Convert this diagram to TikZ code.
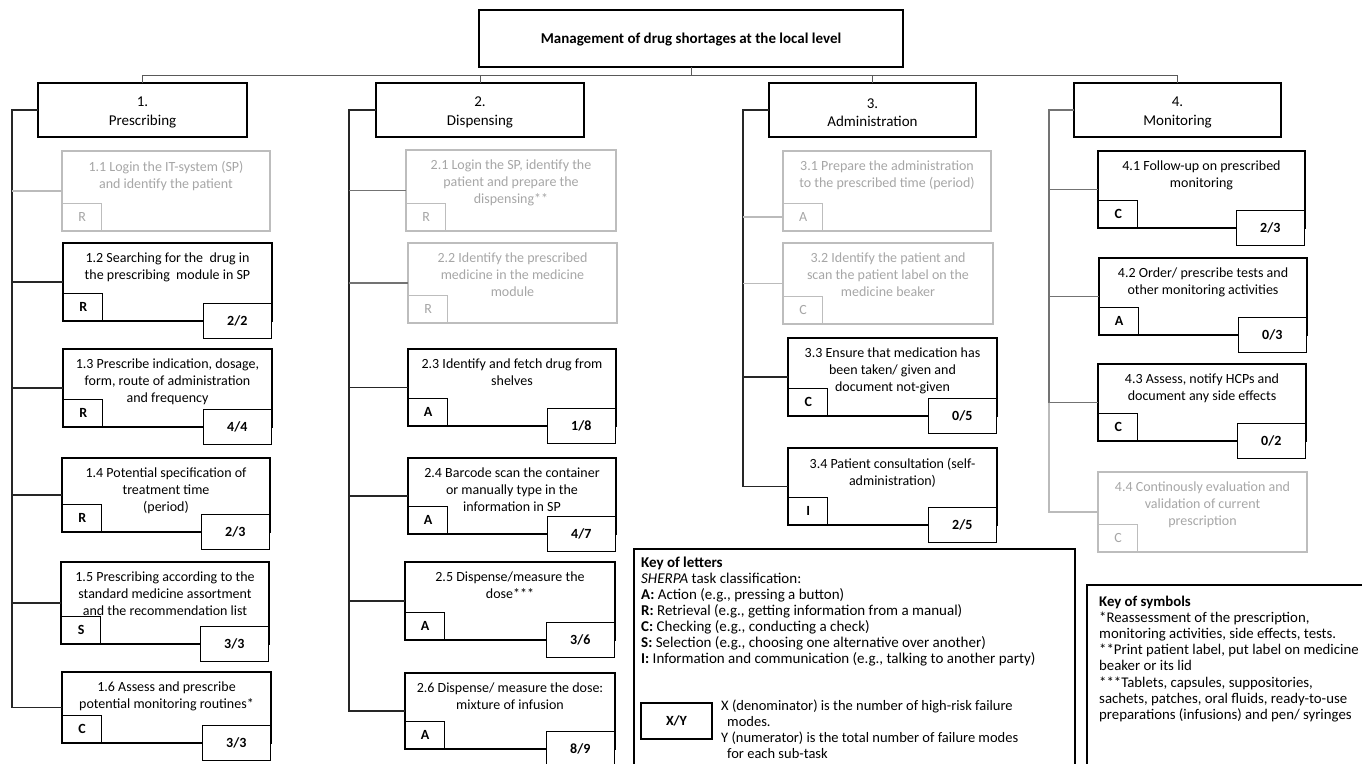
\documentclass[tikz,border=0pt]{standalone}
\usepackage{fontspec}
\setmainfont{Carlito}
\usetikzlibrary{calc}

\definecolor{boxgray}{HTML}{BDBDBD}
\definecolor{txtgray}{HTML}{A6A6A6}
\definecolor{linkgray}{HTML}{BBBBBB}

\tikzset{
  titlebox/.style={draw, line width=1.8pt, inner sep=0pt, outer sep=0pt,
    font=\fontsize{15}{18}\selectfont\bfseries},
  hdr/.style={draw, line width=2.2pt, inner sep=0pt, outer sep=0pt, align=center,
    minimum height=54, font=\fontsize{15}{18.5}\selectfont},
  blackbox/.style={draw, line width=1.8pt, inner sep=0pt, outer sep=0pt},
  graybox/.style={draw=boxgray, line width=1.6pt, inner sep=0pt, outer sep=0pt},
  blacktxt/.style={inner sep=0pt, align=center, font=\fontsize{14}{16.6}\selectfont},
  graytxt/.style={blacktxt, text=txtgray},
  blackbadge/.style={draw, fill=white, line width=1.4pt, minimum width=39,
    minimum height=27, inner sep=0pt, font=\fontsize{14}{16}\selectfont\bfseries},
  graybadge/.style={draw=boxgray, fill=white, line width=1.4pt, minimum width=39,
    minimum height=27, inner sep=0pt, text=txtgray, font=\fontsize{14}{16}\selectfont},
  frac/.style={draw, fill=white, line width=1.4pt, minimum width=68,
    minimum height=35, inner sep=0pt, font=\fontsize{14}{16}\selectfont\bfseries},
  bus/.style={draw=black!65, line width=1pt},
  spine/.style={draw=black!85, line width=1.1pt},
  midlink/.style={draw=black!55, line width=1.1pt},
  lightlink/.style={draw=linkgray, line width=1.1pt},
  keybox/.style={draw, line width=1.8pt, inner sep=0pt, outer sep=0pt},
  keytxt/.style={inner sep=0pt, align=left, font=\fontsize{15}{16.1}\selectfont},
}

% phase heading with a little extra room above the number
\newcommand{\phase}[2]{\rule{0pt}{15pt}#1\\#2}

% sub-task box: name, left, top, right, bottom, kind (black/gray), text, letter, score
\newcommand{\taskbox}[9]{%
  \node[#6box, minimum width={#4-#2}, minimum height={#5-#3}] (#1) at ({(#2+#4)/2},{(#3+#5)/2}) {};
  \node[#6txt, anchor=north] (#1t) at ($(#1.north)+(0,10)$) {#7};
  \node[#6badge, anchor=south west] (#1b) at (#1.south west) {#8};
  \if\relax\detokenize{#9}\relax\else
    \node[frac, anchor=north east] (#1f) at ($(#1.south east)+(0,-18)$) {#9};
  \fi
}

\begin{document}
\begin{tikzpicture}[x=1pt,y=-1pt]
\useasboundingbox (0,0) rectangle (1362,763);
\clip (0,0) rectangle (1362,763);

% main task and the four phases
\node[titlebox, minimum width=424, minimum height=57] (title) at (691,38.5)
  {\rule{0pt}{13pt}Management of drug shortages at the local level};
\node[hdr, minimum width=209] (h1) at (142.5,110) {\phase{1.}{Prescribing}};
\node[hdr, minimum width=208] (h2) at (480,110) {\phase{2.}{Dispensing}};
\node[hdr, minimum width=207] (h3) at (872.5,110) {\phase{3.}{Administration}};
\node[hdr, minimum width=207] (h4) at (1177.5,110) {\phase{4.}{Monitoring}};

\coordinate (busy) at (0,75);
\draw[bus] (title.south) -- (title.south |- busy);
\draw[bus] (h1.north) -- (h1.north |- busy) -- (h4.north |- busy) -- (h4.north);
\draw[bus] (h2.north) -- (h2.north |- busy);
\draw[bus] (h3.north) -- (h3.north |- busy);

% 1. Prescribing
\taskbox{b11}{62}{151}{270}{231}{gray}{1.1 Login the IT-system (SP)\\and identify the patient}{R}{}
\taskbox{b12}{63}{243}{272}{321}{black}{1.2 Searching for the\ \ drug in\\the prescribing\ \ module in SP}{R}{2/2}
\taskbox{b13}{63}{349}{272}{427}{black}{1.3 Prescribe indication, dosage,\\form, route of administration\\and frequency}{R}{4/4}
\taskbox{b14}{62}{458}{270}{532}{black}{1.4 Potential specification of\\treatment time\\(period)}{R}{2/3}
\taskbox{b15}{61}{562}{269}{644}{black}{1.5 Prescribing according to the\\standard medicine assortment\\and the recommendation list}{S}{3/3}
\taskbox{b16}{62}{672}{271}{743}{black}{1.6 Assess and prescribe\\potential monitoring routines*}{C}{3/3}

% 2. Dispensing
\taskbox{b21}{406}{150}{616}{231}{gray}{2.1 Login the SP, identify the\\patient and prepare the\\dispensing**}{R}{}
\taskbox{b22}{408}{243}{617}{323}{gray}{2.2 Identify the prescribed\\medicine in the medicine\\module}{R}{}
\taskbox{b23}{408}{349}{616}{426}{black}{2.3 Identify and fetch drug from\\shelves}{A}{1/8}
\taskbox{b24}{408}{458}{616}{534}{black}{2.4 Barcode scan the container\\or manually type in the\\information in SP}{A}{4/7}
\taskbox{b25}{405}{562}{615}{640}{black}{2.5 Dispense/measure the\\dose***}{A}{3/6}
\taskbox{b26}{405}{673}{615}{749}{black}{2.6 Dispense/ measure the dose:\\mixture of infusion}{A}{8/9}

% 3. Administration
\taskbox{b31}{783}{151}{991}{231}{gray}{3.1 Prepare the administration\\to the prescribed time (period)}{A}{}
\taskbox{b32}{783}{243}{993}{324}{gray}{3.2 Identify the patient and\\scan the patient label on the\\medicine beaker}{C}{}
\taskbox{b33}{788}{338}{997}{416}{black}{3.3 Ensure that medication has\\been taken/ given and\\document not-given}{C}{0/5}
\taskbox{b34}{788}{448}{997}{525}{black}{3.4 Patient consultation (self-\\administration)}{I}{2/5}

% 4. Monitoring
\taskbox{b41}{1098}{151}{1305}{228}{black}{4.1 Follow-up on prescribed\\monitoring}{C}{2/3}
\taskbox{b42}{1099}{258}{1307}{335}{black}{4.2 Order/ prescribe tests and\\other monitoring activities}{A}{0/3}
\taskbox{b43}{1098}{364}{1306}{441}{black}{4.3 Assess, notify HCPs and\\document any side effects}{C}{0/2}
\taskbox{b44}{1098}{472}{1307}{552}{gray}{4.4 Continously evaluation and\\validation of current\\prescription}{C}{}

% column spines and branches
\coordinate (c1) at (12,0);
\coordinate (c2) at (349,0);
\coordinate (c3) at (743,0);
\coordinate (c4) at (1049,0);

\draw[spine] (h1.west) -| (c1 |- b16.west) -- (b16.west);
\draw[lightlink] (c1 |- b11.west) -- (b11.west);
\foreach \b in {b12,b13,b14,b15} \draw[spine] (c1 |- \b.west) -- (\b.west);

\draw[spine] (h2.west) -| (c2 |- b26.west) -- (b26.west);
\draw[midlink] (c2 |- b21.west) -- (b21.west);
\draw[midlink] (c2 |- b22.west) -- (b22.west);
\foreach \b in {b23,b24,b25} \draw[spine] (c2 |- \b.west) -- (\b.west);

\coordinate (p31) at ($(b31.west)+(0,26)$);
\draw[spine] (h3.west) -| (c3 |- b34.west) -- (b34.west);
\draw[lightlink] (c3 |- p31) -- (p31);
\draw[lightlink] (c3 |- b32.west) -- (b32.west);
\draw[spine] (c3 |- b33.west) -- (b33.west);

\draw[midlink] (h4.west) -| (c4 |- b43.west) -- (b43.west);
\draw[lightlink] (c4 |- b43.west) -- (c4 |- b44.west) -- (b44.west);
\foreach \b in {b41,b42} \draw[midlink] (c4 |- \b.west) -- (\b.west);

% key of letters
\node[keybox, minimum width=441, minimum height=240] (keyl) at (854.5,669) {};
\node[keytxt, anchor=north west] (keylt) at (641,556.5) {%
  \textbf{Key of letters}\\
  \textit{SHERPA} task classification:\\
  \textbf{A:} Action (e.g., pressing a button)\\
  \textbf{R:} Retrieval (e.g., getting information from a manual)\\
  \textbf{C:} Checking (e.g., conducting a check)\\
  \textbf{S:} Selection (e.g., choosing one alternative over another)\\
  \textbf{I:} Information and communication (e.g., talking to another party)};
\node[draw, line width=1.4pt, minimum width=71, minimum height=36, inner sep=0pt,
  font=\fontsize{14}{16}\selectfont\bfseries] (xy) at (676.5,721) {X/Y};
\node[keytxt, anchor=north west, font=\fontsize{14.5}{15.8}\selectfont] (xyt) at (721,700) {%
  X (denominator) is the number of high-risk failure\\
  \hspace*{6pt}modes.\\
  Y (numerator) is the total number of failure modes\\
  \hspace*{6pt}for each sub-task};

% key of symbols
\node[keybox, minimum width=300, minimum height=220] (keys) at (1237,695) {};
\node[keytxt, anchor=north west, font=\fontsize{14.8}{16.1}\selectfont] (keyst) at (1099,596) {%
  \textbf{Key of symbols}\\
  *Reassessment of the prescription,\\
  monitoring activities, side effects, tests.\\
  **Print patient label, put label on medicine\\
  beaker or its lid\\
  ***Tablets, capsules, suppositories,\\
  sachets, patches, oral fluids, ready-to-use\\
  preparations (infusions) and pen/ syringes};
\end{tikzpicture}
\end{document}
